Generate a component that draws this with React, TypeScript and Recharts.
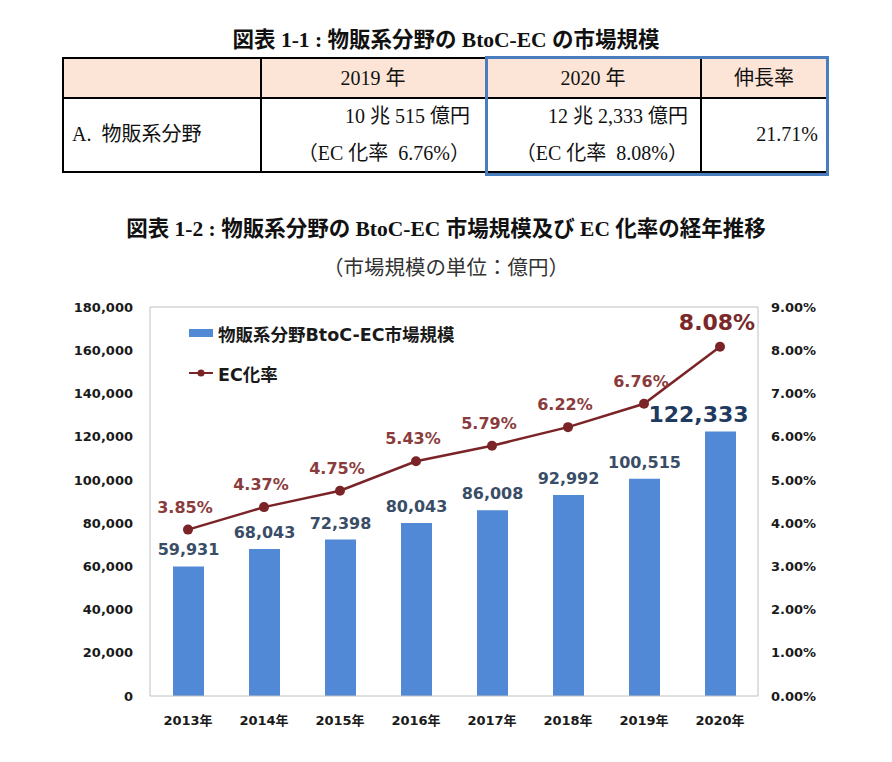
import React from 'react';
import { ComposedChart, Bar, Line, XAxis, YAxis, LabelList, Legend, ReferenceLine } from 'recharts';

const years = ['2013年', '2014年', '2015年', '2016年', '2017年', '2018年', '2019年', '2020年'];
const marketSize = [59931, 68043, 72398, 80043, 86008, 92992, 100515, 122333];
const ecRate = [3.85, 4.37, 4.75, 5.43, 5.79, 6.22, 6.76, 8.08];
const sizeTicks = [0, 20000, 40000, 60000, 80000, 100000, 120000, 140000, 160000, 180000];
const rateTicks = [0, 1, 2, 3, 4, 5, 6, 7, 8, 9];

const tableHeader = ['2019 年', '2020 年', '伸長率'];
const tableRowLabel = 'A.  物販系分野';
const tableSize = ['10 兆 515 億円', '12 兆 2,333 億円'];
const tableRate = ['（EC 化率  6.76%）', '（EC 化率  8.08%）'];
const tableGrowth = '21.71%';

const title1 = '図表 1-1 : 物販系分野の BtoC-EC の市場規模';
const title2 = '図表 1-2 : 物販系分野の BtoC-EC 市場規模及び EC 化率の経年推移';
const subTitle = '（市場規模の単位：億円）';

const data = years.map((year, i) => ({ year, size: marketSize[i], rate: ecRate[i] }));

const SANS = "'DejaVu Sans', 'Noto Sans CJK JP', sans-serif";
const SERIF = "'Liberation Serif', 'Noto Sans CJK JP', serif";
const BAR_COLOR = '#5289d6';
const LINE_COLOR = '#7b2427';
const BORDER = '#c0c0c0';

const pos = (p: any) => ({
  x: p.x ?? p.viewBox?.x ?? 0,
  y: p.y ?? p.viewBox?.y ?? 0,
  width: p.width ?? p.viewBox?.width ?? 0,
});

const BarValueLabel = (props: any) => {
  const { x, y, width } = pos(props);
  const last = props.index === years.length - 1;
  return (
    <text
      x={x + width / 2 + (last ? -22 : 0)}
      y={y - (last ? 10 : 11)}
      textAnchor="middle"
      fill={last ? '#1f3a5f' : '#3a4d66'}
      fontSize={last ? 22 : 16}
      fontWeight="bold"
      fontFamily={SANS}
    >
      {Number(props.value).toLocaleString('en-US')}
    </text>
  );
};

const RateLabel = (props: any) => {
  const { x, y } = pos(props);
  const last = props.index === years.length - 1;
  return (
    <text
      x={x - 3}
      y={y - 17}
      textAnchor="middle"
      fill={last ? '#7a2828' : '#8a3c3c'}
      fontSize={last ? 22 : 16}
      fontWeight="bold"
      fontFamily={SANS}
    >
      {Number(props.value).toFixed(2)}%
    </text>
  );
};

const LegendContent = () => (
  <div style={{ fontFamily: SANS, fontSize: 17.5, fontWeight: 'bold', color: '#1a1a1a' }}>
    <div style={{ display: 'flex', alignItems: 'center', height: 40 }}>
      <span style={{ display: 'inline-block', width: 24, height: 8, background: BAR_COLOR, marginRight: 5 }} />
      物販系分野BtoC-EC市場規模
    </div>
    <div style={{ display: 'flex', alignItems: 'center', height: 40 }}>
      <svg width={24} height={10} style={{ marginRight: 5 }}>
        <line x1={0} y1={5} x2={24} y2={5} stroke={LINE_COLOR} strokeWidth={2} />
        <circle cx={12} cy={5} r={3.5} fill={LINE_COLOR} />
      </svg>
      EC化率
    </div>
  </div>
);

const Txt = ({ x, y, w, align = 'center', size = 20, bold = false, color = '#111', font = SERIF, children }: any) => (
  <div
    style={{
      position: 'absolute',
      left: x,
      top: y - 15,
      width: w,
      height: 30,
      lineHeight: '30px',
      textAlign: align,
      fontSize: size,
      fontWeight: bold ? 'bold' : 'normal',
      fontFamily: font,
      color,
      whiteSpace: 'pre',
    }}
  >
    {children}
  </div>
);

const cell = (left: number, top: number, width: number, height: number, bg = '#fff') => (
  <div
    style={{
      position: 'absolute',
      left,
      top,
      width,
      height,
      background: bg,
      border: '2px solid #000',
      boxSizing: 'border-box',
    }}
  />
);

const App: React.FC = () => {
  return (
    <div style={{ position: 'absolute', left: 0, top: 0, width: 892, height: 762, background: '#fff', overflow: 'hidden' }}>
      <Txt x={0} y={40} w={892} size={21.5} bold>{title1}</Txt>

      {cell(62, 57, 200, 42, '#fce5d6')}
      {cell(260, 57, 228, 42, '#fce5d6')}
      {cell(486, 57, 216, 42, '#fce5d6')}
      {cell(700, 57, 128, 42, '#fce5d6')}
      {cell(62, 97, 200, 76)}
      {cell(260, 97, 228, 76)}
      {cell(486, 97, 216, 76)}
      {cell(700, 97, 128, 76)}
      <div
        style={{
          position: 'absolute',
          left: 485,
          top: 56,
          width: 344,
          height: 120,
          border: '3px solid #4a7dbd',
          boxSizing: 'border-box',
        }}
      />
      <Txt x={260} y={78} w={226}>{tableHeader[0]}</Txt>
      <Txt x={486} y={78} w={214}>{tableHeader[1]}</Txt>
      <Txt x={700} y={78} w={128}>{tableHeader[2]}</Txt>
      <Txt x={72} y={134} w={180} align="left">{tableRowLabel}</Txt>
      <Txt x={260} y={116} w={210} align="right">{tableSize[0]}</Txt>
      <Txt x={260} y={153} w={210} align="right">{tableRate[0]}</Txt>
      <Txt x={486} y={116} w={202} align="right">{tableSize[1]}</Txt>
      <Txt x={486} y={153} w={202} align="right">{tableRate[1]}</Txt>
      <Txt x={700} y={134} w={118} align="right">{tableGrowth}</Txt>

      <Txt x={0} y={229} w={892} size={21.5} bold>{title2}</Txt>
      <Txt x={0} y={268} w={892} size={20.5} color="#333">{subTitle}</Txt>

      <div style={{ position: 'absolute', left: 0, top: 280 }}>
        <ComposedChart width={892} height={460} data={data} margin={{ top: 27, right: 54, bottom: 14, left: 0 }}>
          <XAxis
            dataKey="year"
            height={30}
            axisLine={{ stroke: BORDER }}
            tickLine={false}
            tickSize={0}
            tickMargin={20}
            tick={{ fill: '#1a1a1a', fontSize: 13, fontWeight: 'bold', fontFamily: SANS }}
          />
          <YAxis
            yAxisId="left"
            width={150}
            domain={[0, 180000]}
            ticks={sizeTicks}
            tickFormatter={(v: number) => v.toLocaleString('en-US')}
            axisLine={{ stroke: BORDER }}
            tickLine={false}
            tickSize={0}
            tickMargin={17}
            tick={{ fill: '#1a1a1a', fontSize: 13, fontWeight: 'bold', fontFamily: SANS }}
          />
          <YAxis
            yAxisId="right"
            orientation="right"
            width={80}
            domain={[0, 9]}
            ticks={rateTicks}
            tickFormatter={(v: number) => v.toFixed(2) + '%'}
            axisLine={{ stroke: BORDER }}
            tickLine={false}
            tickSize={0}
            tickMargin={13}
            textAnchor="start"
            tick={{ fill: '#1a1a1a', fontSize: 13, fontWeight: 'bold', fontFamily: SANS }}
          />
          <ReferenceLine yAxisId="left" y={180000} stroke={BORDER} />
          <Legend
            layout="vertical"
            align="center"
            verticalAlign="middle"
            content={LegendContent}
            wrapperStyle={{ left: 189, top: 33, width: 320, height: 80 }}
          />
          <Bar yAxisId="left" dataKey="size" name="物販系分野BtoC-EC市場規模" fill={BAR_COLOR} barSize={31} isAnimationActive={false}>
            <LabelList dataKey="size" content={BarValueLabel} />
          </Bar>
          <Line
            yAxisId="right"
            dataKey="rate"
            name="EC化率"
            type="linear"
            stroke={LINE_COLOR}
            strokeWidth={2.5}
            dot={{ r: 5, fill: LINE_COLOR, stroke: LINE_COLOR, strokeWidth: 0 }}
            activeDot={false}
            isAnimationActive={false}
          >
            <LabelList dataKey="rate" content={RateLabel} />
          </Line>
        </ComposedChart>
      </div>
    </div>
  );
};

export default App;
